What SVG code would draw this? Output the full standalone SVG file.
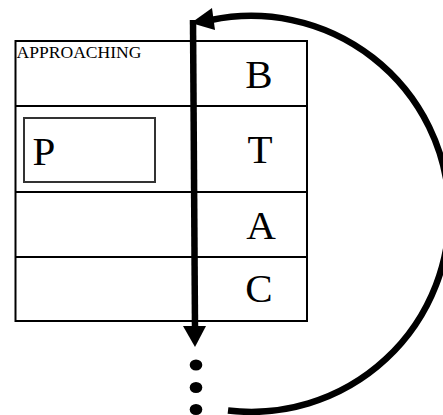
<svg xmlns="http://www.w3.org/2000/svg" width="443" height="415" viewBox="0 0 443 415">
<style>
.grid{fill:none;stroke:#000;stroke-width:2}
.big{font-family:"Liberation Serif","Times New Roman",serif;font-size:41px;fill:#000;text-anchor:middle}
.small{font-family:"Liberation Serif","Times New Roman",serif;font-size:17.5px;fill:#000}
.thick{fill:none;stroke:#000;stroke-width:6.5}
</style>
<rect width="443" height="415" fill="#fff"/>
<g id="table">
<rect class="grid" x="15.5" y="41" width="291.5" height="280"/>
<line class="grid" x1="15.5" y1="106" x2="307" y2="106"/>
<line class="grid" x1="15.5" y1="192" x2="307" y2="192"/>
<line class="grid" x1="15.5" y1="257" x2="307" y2="257"/>
<line class="grid" x1="195" y1="41" x2="195" y2="321"/>
</g>
<g id="approaching"><text class="small" x="16.5" y="58" textLength="125" lengthAdjust="spacingAndGlyphs">APPROACHING</text></g>
<g id="node-P">
<rect x="24" y="118" width="131" height="64" fill="none" stroke="#333" stroke-width="2"/>
<text class="big" x="44" y="165">P</text>
</g>
<g id="node-B"><text class="big" x="259" y="88">B</text></g>
<g id="node-T"><text class="big" x="260" y="163">T</text></g>
<g id="node-A"><text class="big" x="261" y="239">A</text></g>
<g id="node-C"><text class="big" x="259" y="302">C</text></g>
<g id="dots">
<ellipse cx="196" cy="365" rx="6.3" ry="5.5"/>
<ellipse cx="196" cy="387.5" rx="6.3" ry="5.5"/>
<ellipse cx="196" cy="409.5" rx="6.3" ry="5.5"/>
</g>
<g id="connectors">
<line class="thick" x1="193" y1="20" x2="195" y2="328"/>
<polygon points="183,326 206,326 195,347"/>
<path class="thick" d="M 228 410.5 A 198 198 0 1 0 211 20"/>
<polygon points="191,23 212,8 215,30"/>
</g>
</svg>
